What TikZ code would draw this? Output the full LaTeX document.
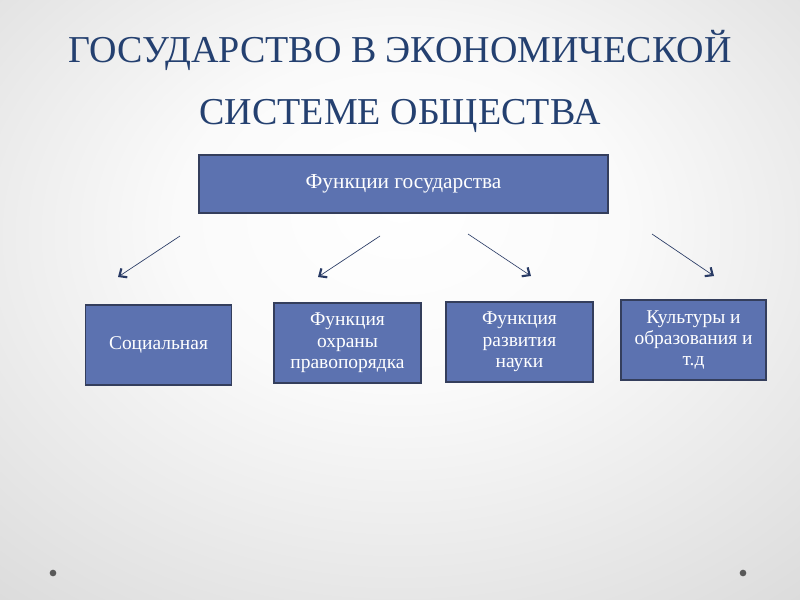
\documentclass[tikz,border=0pt]{standalone}
\usepackage{fontspec}
\setmainfont{Liberation Serif}
\usetikzlibrary{arrows.meta}
\definecolor{boxblue}{RGB}{92,114,176}
\definecolor{boxline}{RGB}{52,62,92}
\definecolor{titleblue}{RGB}{36,64,112}
\definecolor{arrowblue}{RGB}{40,58,100}
\pgfdeclareradialshading{bgshade}{\pgfpoint{0bp}{8bp}}{color(0bp)=(white); color(14bp)=(white!98!black); color(45bp)=(black!17); color(75bp)=(black!30)}
\tikzset{
  fbox/.style={draw=boxline, line width=1.3pt, fill=boxblue, text=white, align=center, font=\fontsize{14.6pt}{16pt}\selectfont, inner sep=0pt},
  title/.style={text=titleblue, font=\fontsize{28.5pt}{34pt}\selectfont, inner sep=0pt},
  link/.style={draw=arrowblue, line width=0.5pt, -{Straight Barb[length=4.5pt,width=8pt,line width=1.6pt]}},
  dot/.style={circle, fill=black!65, minimum size=5pt, inner sep=0pt}
}
\begin{document}
\begin{tikzpicture}[x=0.75pt,y=-0.75pt]
\shade[shading=bgshade] (0,0) rectangle (800,600);
\useasboundingbox (0,0) rectangle (800,600);
\node[title] (t1) at (400,50) {ГОСУДАРСТВО В ЭКОНОМИЧЕСКОЙ};
\node[title] (t2) at (400,116) {СИСТЕМЕ ОБЩЕСТВА};
\node[fbox, font=\fontsize{16pt}{18pt}\selectfont, minimum width=307pt, minimum height=43.5pt] (top) at (403.5,184) {Функции государства};
\node[fbox, minimum width=109.5pt, minimum height=60pt] (b1) at (158.5,345) {Социальная};
\node[fbox, minimum width=110pt, minimum height=60pt] (b2) at (347.5,343) {Функция\\охраны\\правопорядка};
\node[fbox, minimum width=110pt, minimum height=60pt] (b3) at (519.5,342) {Функция\\развития\\науки};
\node[fbox, minimum width=109pt, minimum height=60pt] (b4) at (693.5,340) {Культуры и\\образования и\\т.д};
\coordinate (s1) at (180,236); \coordinate (e1) at (118,277);
\coordinate (s2) at (380,236); \coordinate (e2) at (318,277);
\coordinate (s3) at (468,234); \coordinate (e3) at (531,276);
\coordinate (s4) at (652,234); \coordinate (e4) at (714,276);
\draw[link] (s1) -- (e1);
\draw[link] (s2) -- (e2);
\draw[link] (s3) -- (e3);
\draw[link] (s4) -- (e4);
\node[dot] (d1) at (53,573) {};
\node[dot] (d2) at (743,573) {};
\end{tikzpicture}
\end{document}
